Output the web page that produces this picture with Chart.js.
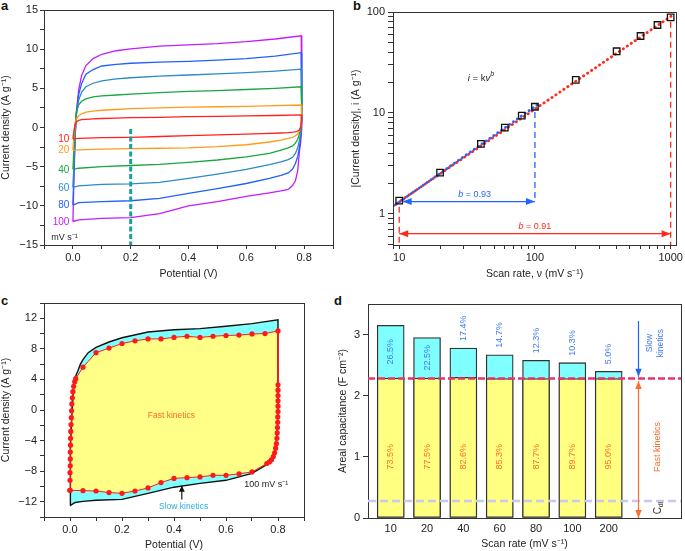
<!DOCTYPE html>
<html>
<head>
<meta charset="utf-8">
<script src="https://cdn.jsdelivr.net/npm/chart.js@4.4.1/dist/chart.umd.min.js"></script>
<style>
  body { margin: 0; width: 685px; height: 551px; position: relative; overflow: hidden; background: #fff;
         font-family: 'Liberation Sans', Arial, Helvetica, sans-serif; }
  canvas { position: absolute; }
  .tag { position: absolute; font-weight: bold; font-size: 13px; line-height: 13px; color: #111; }
</style>
</head>
<body>
<div class="tag" style="left:1px;top:-1px">a</div>
<div class="tag" style="left:353px;top:-1px">b</div>
<div class="tag" style="left:1px;top:294px">c</div>
<div class="tag" style="left:334px;top:294px">d</div>
<canvas id="chartA" width="342" height="280" style="left:0;top:0"></canvas>
<canvas id="chartB" width="343" height="280" style="left:342px;top:0"></canvas>
<canvas id="chartC" width="336" height="271" style="left:0;top:280px"></canvas>
<canvas id="chartD" width="349" height="271" style="left:336px;top:280px"></canvas>
<script>
// ---- panel a: CVs at several scan rates ----
const rateLabels = ['10', '20', '40', '60', '80', '100'];
const upperPotential = [0, 0.004, 0.008, 0.012, 0.02, 0.03, 0.045, 0.07, 0.1, 0.15, 0.2, 0.3, 0.4, 0.5, 0.6, 0.7, 0.79];
const lowerPotential = [0.792, 0.788, 0.784, 0.778, 0.77, 0.76, 0.745, 0.72, 0.68, 0.6, 0.5, 0.4, 0.3, 0.2, 0.1, 0.02, 0];
const upper10 = [-1.45, -0.3, 0.4, 0.7, 0.9, 1.0, 1.05, 1.1, 1.15, 1.2, 1.25, 1.3, 1.38, 1.42, 1.48, 1.53, 1.6];
const lower10 = [0.8, 0.0, -0.3, -0.45, -0.55, -0.6, -0.65, -0.7, -0.75, -0.85, -0.95, -1.05, -1.15, -1.25, -1.3, -1.4, -1.45];
const upper20 = [-2.9, -0.8, 0.6, 1.1, 1.5, 1.75, 1.95, 2.1, 2.2, 2.3, 2.4, 2.5, 2.6, 2.65, 2.7, 2.78, 2.87];
const lower20 = [1.5, 0.2, -0.4, -0.8, -1.05, -1.25, -1.4, -1.6, -1.85, -2.2, -2.45, -2.6, -2.65, -2.7, -2.75, -2.85, -2.9];
const upper40 = [-5.35, -2.5, 0.3, 2.0, 2.9, 3.35, 3.65, 3.9, 4.05, 4.15, 4.25, 4.45, 4.6, 4.7, 4.85, 5.0, 5.2];
const lower40 = [2.0, 0.0, -0.75, -1.5, -2.0, -2.35, -2.6, -2.9, -3.3, -3.75, -4.15, -4.45, -4.7, -4.85, -5.0, -5.2, -5.35];
const upper60 = [-7.65, -4.0, -0.8, 1.5, 3.5, 4.5, 5.2, 5.65, 5.95, 6.2, 6.35, 6.55, 6.7, 6.85, 7.0, 7.2, 7.45];
const lower60 = [1.5, -0.6, -1.6, -2.6, -3.3, -3.8, -4.1, -4.4, -4.75, -5.35, -5.95, -6.5, -7.0, -7.2, -7.25, -7.45, -7.65];
const upper80 = [-9.9, -5.0, -0.8, 1.8, 4.2, 5.6, 6.8, 7.4, 7.85, 8.05, 8.2, 8.35, 8.45, 8.6, 8.8, 9.1, 9.55];
const lower80 = [1.0, -1.2, -2.5, -3.7, -4.6, -5.3, -5.8, -6.1, -6.5, -7.15, -7.8, -8.4, -9.05, -9.35, -9.45, -9.6, -9.9];
const upper100 = [-12.0, -6.0, -1.0, 2.0, 4.8, 6.6, 7.9, 8.8, 9.35, 9.8, 10.05, 10.4, 10.55, 10.7, 10.95, 11.3, 11.7];
const lower100 = [0.0, -2.0, -3.0, -5.5, -6.8, -7.4, -7.9, -8.1, -8.35, -8.8, -9.45, -10.0, -11.0, -11.5, -11.6, -11.8, -12.0];

// ---- panel b: peak current vs scan rate ----
const scanRateB = [10, 20, 40, 60, 80, 100, 200, 400, 600, 800, 1000];
const peakCurrent = [1.35, 2.56, 4.93, 7.15, 9.4, 11.5, 21.2, 40.8, 57.8, 74.3, 88.6];
const fitAllRate = [9.04, 1064];
const fitAllCurrent = [1.2, 95.5];
const fitLowRate = [9.4, 106];
const fitLowCurrent = [1.23, 12.2];

// ---- panel c: CV at 100 mV/s and fast-kinetics fit ----
const cvPotential = [0, 0, 0.003, 0.008, 0.014, 0.02, 0.03, 0.04, 0.05, 0.07, 0.1, 0.15, 0.2, 0.3, 0.4, 0.5, 0.6, 0.7, 0.8,
  0.8, 0.8, 0.797, 0.791, 0.782, 0.767, 0.75, 0.7, 0.6, 0.5, 0.4, 0.3, 0.2, 0.1, 0.05, 0.02, 0];
const cvCurrent = [-12.5, -10.5, -5.0, 0.0, 3.0, 4.3, 5.1, 6.0, 6.6, 7.5, 8.2, 8.9, 9.45, 10.2, 10.5, 10.65, 10.95, 11.3, 11.8,
  3.3, -0.2, -3.0, -5.0, -6.1, -6.8, -7.3, -8.3, -9.2, -9.6, -10.1, -10.9, -11.7, -11.8, -11.95, -12.1, -12.5];
const fitPotential = [0, 0, 0, 0.001, 0.001, 0.001, 0.002, 0.002, 0.003, 0.004, 0.005, 0.006, 0.007, 0.009, 0.011, 0.014, 0.018, 0.022,
  0.05, 0.1, 0.15, 0.2, 0.25, 0.3, 0.35, 0.4, 0.45, 0.5, 0.55, 0.6, 0.65, 0.7, 0.75, 0.8,
  0.8, 0.8, 0.8, 0.8, 0.8, 0.8,
  0.799, 0.799, 0.798, 0.797, 0.796, 0.794, 0.791, 0.787, 0.782, 0.775, 0.767, 0.757,
  0.7, 0.65, 0.6, 0.55, 0.5, 0.45, 0.4, 0.35, 0.3, 0.25, 0.2, 0.15, 0.1, 0.05, 0];
const fitCurrent = [-10.5, -9.2, -8.2, -7.3, -6.4, -5.5, -4.6, -3.7, -2.8, -1.9, -1.0, -0.1, 0.8, 1.6, 2.4, 3.1, 3.7, 4.1,
  5.6, 7.5, 8.1, 8.7, 9.05, 9.3, 9.3, 9.5, 9.65, 9.5, 9.65, 9.75, 9.8, 9.95, 10.0, 10.35,
  3.3, 2.6, 1.9, 1.2, 0.5, -0.2,
  -0.9, -1.6, -2.3, -3.0, -3.7, -4.4, -5.0, -5.6, -6.1, -6.5, -6.8, -7.0,
  -8.1, -8.35, -8.55, -8.55, -8.75, -8.85, -8.95, -9.5, -10.2, -10.6, -10.9, -10.8, -10.6, -10.55, -10.5];

// ---- panel d: areal capacitance split ----
const scanRateD = ['10', '20', '40', '60', '80', '100', '200'];
const totalCap = [3.15, 2.95, 2.78, 2.67, 2.58, 2.54, 2.40];
const fastCap = [2.29, 2.29, 2.30, 2.28, 2.28, 2.28, 2.28];
const slowPct = ['26.5%', '22.5%', '17.4%', '14.7%', '12.3%', '10.3%', '5.0%'];
const fastPct = ['73.5%', '77.5%', '82.6%', '85.3%', '87.7%', '89.7%', '95.0%'];
const fastLevel = 2.28;
const cdlLevel = 0.28;

const FONT = "'Liberation Sans', Arial, Helvetica, sans-serif";
Chart.defaults.font.family = FONT;
Chart.defaults.color = '#222';

const rateColors = ['#ff2020', '#ff9c1a', '#1aa640', '#2b8bc4', '#2160ff', '#c21cff'];
const uppers = [upper10, upper20, upper40, upper60, upper80, upper100];
const lowers = [lower10, lower20, lower40, lower60, lower80, lower100];

const fmt = v => String(v).replace('-', '\u2212');
const tickGrid = len => ({ display: true, drawOnChartArea: false, drawTicks: true, tickLength: len, color: '#333', lineWidth: 1 });
const isPow10 = v => Math.abs(Math.log10(v) - Math.round(Math.log10(v))) < 1e-9;

function logTicks(lo, hi) {
    const out = [];
    for (let k = Math.floor(Math.log10(lo)); k <= Math.ceil(Math.log10(hi)); k++) {
        for (let m = 1; m <= 9; m++) {
            const v = Number((m * Math.pow(10, k)).toPrecision(6));
            if (v >= lo - 1e-9 && v <= hi + 1e-9) out.push({ value: v });
        }
    }
    return out;
}

const framePlugin = {
    id: 'frame',
    afterDatasetsDraw(chart) {
        const { ctx, chartArea: a } = chart;
        ctx.save();
        ctx.strokeStyle = '#333';
        ctx.lineWidth = 1;
        ctx.strokeRect(Math.round(a.left) + 0.5, Math.round(a.top) + 0.5, Math.round(a.right - a.left), Math.round(a.bottom - a.top));
        ctx.restore();
    }
};

function head(ctx, fx, fy, tx, ty, L, W) {
    const a = Math.atan2(ty - fy, tx - fx);
    ctx.beginPath();
    ctx.moveTo(tx, ty);
    ctx.lineTo(tx - L * Math.cos(a) + W * Math.sin(a), ty - L * Math.sin(a) - W * Math.cos(a));
    ctx.lineTo(tx - L * Math.cos(a) - W * Math.sin(a), ty - L * Math.sin(a) + W * Math.cos(a));
    ctx.closePath();
    ctx.fill();
}

function arrow(ctx, x1, y1, x2, y2, color, both, L = 9, W = 3.5) {
    ctx.save();
    ctx.strokeStyle = color;
    ctx.fillStyle = color;
    ctx.lineWidth = 1.2;
    ctx.setLineDash([]);
    ctx.beginPath();
    ctx.moveTo(x1, y1);
    ctx.lineTo(x2, y2);
    ctx.stroke();
    head(ctx, x1, y1, x2, y2, L, W);
    if (both) head(ctx, x2, y2, x1, y1, L, W);
    ctx.restore();
}

function dashed(ctx, x1, y1, x2, y2, color, width, dash) {
    ctx.save();
    ctx.strokeStyle = color;
    ctx.lineWidth = width;
    ctx.setLineDash(dash);
    ctx.beginPath();
    ctx.moveTo(x1, y1);
    ctx.lineTo(x2, y2);
    ctx.stroke();
    ctx.restore();
}

// parts: [{t, italic, size, dy}]
function richText(ctx, parts, x, y, align, color) {
    ctx.save();
    ctx.fillStyle = color;
    ctx.textBaseline = 'middle';
    ctx.textAlign = 'left';
    let total = 0;
    parts.forEach(p => {
        ctx.font = (p.italic ? 'italic ' : '') + p.size + 'px ' + FONT;
        p.w = ctx.measureText(p.t).width;
        total += p.w;
    });
    let cx = align === 'center' ? x - total / 2 : x;
    parts.forEach(p => {
        ctx.font = (p.italic ? 'italic ' : '') + p.size + 'px ' + FONT;
        ctx.fillText(p.t, cx, y + (p.dy || 0));
        cx += p.w;
    });
    ctx.restore();
}

function rotatedText(ctx, text, x, y, size, color) {
    ctx.save();
    ctx.translate(x, y);
    ctx.rotate(-Math.PI / 2);
    ctx.font = size + 'px ' + FONT;
    ctx.fillStyle = color;
    ctx.textAlign = 'center';
    ctx.textBaseline = 'middle';
    ctx.fillText(text, 0, 0);
    ctx.restore();
}

const baseOptions = () => ({
    responsive: false,
    animation: false,
    devicePixelRatio: 1,
    plugins: { legend: { display: false }, tooltip: { enabled: false } }
});

// ================= panel a =================
const cvSets = rateLabels.map((r, i) => ({
    label: r + ' mV/s',
    data: upperPotential.map((v, k) => ({ x: v, y: uppers[i][k] }))
        .concat(lowerPotential.map((v, k) => ({ x: v, y: lowers[i][k] }))),
    showLine: true,
    borderColor: rateColors[i],
    borderWidth: 1.3,
    pointRadius: 0,
    tension: 0
}));

const panelAPlugin = {
    id: 'panelA',
    afterDatasetsDraw(chart) {
        const { ctx, scales: { x, y } } = chart;
        dashed(ctx, x.getPixelForValue(0.2), y.getPixelForValue(-0.2), x.getPixelForValue(0.2), y.getPixelForValue(-15), '#1b9e9e', 3, [5, 2.5]);
        ctx.save();
        ctx.font = '10px ' + FONT;
        ctx.textAlign = 'right';
        ctx.textBaseline = 'middle';
        rateLabels.forEach((r, i) => {
            ctx.fillStyle = rateColors[i];
            const low = lowers[i];
            ctx.fillText(r, x.getPixelForValue(-0.012), y.getPixelForValue(low[low.length - 1]) + 0.5);
        });
        ctx.fillStyle = '#222';
        ctx.textAlign = 'left';
        ctx.font = '9px ' + FONT;
        ctx.fillText('mV s\u207B\u00B9', x.getPixelForValue(-0.075), y.getPixelForValue(-14));
        ctx.restore();
    }
};

new Chart(document.getElementById('chartA'), {
    type: 'scatter',
    data: { datasets: cvSets },
    options: Object.assign(baseOptions(), {
        layout: { padding: { top: 10, right: 9, left: 0, bottom: 0 } },
        scales: {
            x: {
                type: 'linear', min: -0.1, max: 0.9,
                afterFit: s => { s.height = 35; },
                ticks: {
                    stepSize: 0.1, autoSkip: false, maxRotation: 0, padding: 2, font: { size: 11 },
                    callback: v => { const k = Math.round(v * 10); return (k >= 0 && k <= 8 && k % 2 === 0) ? (k / 10).toFixed(1) : ''; }
                },
                grid: tickGrid(4), border: { display: false },
                title: { display: true, text: 'Potential (V)', font: { size: 10.5 }, padding: { top: 0, bottom: 0 } }
            },
            y: {
                type: 'linear', min: -15, max: 15,
                afterFit: s => { s.width = 44; },
                ticks: {
                    stepSize: 2.5, autoSkip: false, padding: 2, font: { size: 11 },
                    callback: v => Math.abs(v % 5) < 1e-6 ? fmt(v) : ''
                },
                grid: tickGrid(4), border: { display: false },
                title: { display: true, text: 'Current density (A g\u207B\u00B9)', font: { size: 10.5 }, padding: { top: 0, bottom: 0 } }
            }
        }
    }),
    plugins: [framePlugin, panelAPlugin]
});

// ================= panel b =================
const panelBPlugin = {
    id: 'panelB',
    afterDatasetsDraw(chart) {
        const { ctx, scales: { x, y } } = chart;
        const px = v => x.getPixelForValue(v), py = v => y.getPixelForValue(v);
        const blue = '#2266ff', red = '#ff2a1a';
        dashed(ctx, px(100), py(10.2), px(100), py(1.32), blue, 1.3, [6, 4]);
        dashed(ctx, px(10), py(1.17), px(10), py(y.min), red, 1.3, [6, 4]);
        dashed(ctx, px(1000), py(80), px(1000), py(y.min), red, 1.3, [6, 4]);
        arrow(ctx, px(10.6), py(1.32), px(100), py(1.32), blue, true);
        arrow(ctx, px(10), py(0.634), px(1000), py(0.634), red, true);
        richText(ctx, [{ t: 'b', italic: true, size: 9 }, { t: ' = 0.93', size: 9 }], px(35.9), py(1.54), 'center', blue);
        richText(ctx, [{ t: 'b', italic: true, size: 9 }, { t: ' = 0.91', size: 9 }], px(100), py(0.745), 'center', red);
        richText(ctx, [
            { t: 'i', italic: true, size: 9.5 }, { t: ' = k', size: 9.5 },
            { t: 'v', italic: true, size: 9.5 }, { t: 'b', italic: true, size: 7, dy: -4 }
        ], px(32), py(22), 'left', '#222');
    }
};

new Chart(document.getElementById('chartB'), {
    type: 'scatter',
    data: {
        datasets: [
            {
                label: 'data', data: scanRateB.map((v, i) => ({ x: v, y: peakCurrent[i] })),
                pointStyle: 'rect', pointRadius: 4.6, pointBorderColor: '#111', pointBorderWidth: 1.3,
                pointBackgroundColor: 'rgba(0,0,0,0)', showLine: false
            },
            {
                label: 'fit low', data: fitLowRate.map((v, i) => ({ x: v, y: fitLowCurrent[i] })),
                showLine: true, pointRadius: 0, borderColor: '#2266ff', borderWidth: 2.8,
                borderDash: [0.3, 4.5], borderCapStyle: 'round'
            },
            {
                label: 'fit all', data: fitAllRate.map((v, i) => ({ x: v, y: fitAllCurrent[i] })),
                showLine: true, pointRadius: 0, borderColor: '#ff2a1a', borderWidth: 2.8,
                borderDash: [0.3, 4.5], borderCapStyle: 'round'
            }
        ]
    },
    options: Object.assign(baseOptions(), {
        layout: { padding: { top: 12, right: 6, left: 0, bottom: 0 } },
        scales: {
            x: {
                type: 'logarithmic', min: 9, max: 1100,
                afterFit: s => { s.height = 35; },
                afterBuildTicks: s => { s.ticks = logTicks(s.min, s.max); },
                ticks: { autoSkip: false, maxRotation: 0, padding: 2, font: { size: 11 }, callback: v => isPow10(v) ? String(v) : '' },
                grid: tickGrid(4), border: { display: false },
                title: { display: true, text: 'Scan rate, \u03BD (mV s\u207B\u00B9)', font: { size: 10.5 }, padding: { top: 0, bottom: 0 } }
            },
            y: {
                type: 'logarithmic', min: 0.49, max: 100,
                afterFit: s => { s.width = 51; },
                afterBuildTicks: s => { s.ticks = logTicks(s.min, s.max); },
                ticks: { autoSkip: false, padding: 3, font: { size: 11 }, callback: v => isPow10(v) ? String(v) : '' },
                grid: tickGrid(5), border: { display: false },
                title: { display: true, text: '|Current density|, i (A g\u207B\u00B9)', font: { size: 10.5 }, padding: { top: 8, bottom: 0 } }
            }
        }
    }),
    plugins: [framePlugin, panelBPlugin]
});

// ================= panel c =================
const loopFillPlugin = {
    id: 'loopFill',
    beforeDatasetsDraw(chart) {
        const ctx = chart.ctx;
        const area = chart.chartArea;
        ctx.save();
        ctx.beginPath();
        ctx.rect(area.left, area.top, area.right - area.left, area.bottom - area.top);
        ctx.clip();
        chart.data.datasets.forEach((ds, i) => {
            if (!ds.areaColor) return;
            const pts = chart.getDatasetMeta(i).data;
            ctx.beginPath();
            pts.forEach((p, k) => k ? ctx.lineTo(p.x, p.y) : ctx.moveTo(p.x, p.y));
            ctx.closePath();
            ctx.fillStyle = ds.areaColor;
            ctx.fill();
        });
        ctx.restore();
    }
};

const panelCPlugin = {
    id: 'panelC',
    afterDatasetsDraw(chart) {
        const { ctx, scales: { x, y } } = chart;
        const px = v => x.getPixelForValue(v), py = v => y.getPixelForValue(v);
        richText(ctx, [{ t: 'Fast kinetics', size: 8.5 }], px(0.39), py(-0.8), 'center', '#ff6b1a');
        richText(ctx, [{ t: 'Slow kinetics', size: 8.5 }], px(0.437), py(-12.7), 'center', '#2ab0dc');
        richText(ctx, [{ t: '100 mV s\u207B\u00B9', size: 9 }], px(0.755), py(-9.7), 'center', '#222');
        arrow(ctx, px(0.43), py(-11.7), px(0.43), py(-9.9), '#111', false, 6, 3);
    }
};

new Chart(document.getElementById('chartC'), {
    type: 'scatter',
    data: {
        datasets: [
            {
                label: 'fast fit', data: fitPotential.map((v, i) => ({ x: v, y: fitCurrent[i] })),
                showLine: true, borderColor: '#ff1a1a', borderWidth: 1, pointRadius: 2.6,
                pointBackgroundColor: '#ff1a1a', pointBorderWidth: 0, areaColor: '#ffff88', order: 0
            },
            {
                label: 'cv', data: cvPotential.map((v, i) => ({ x: v, y: cvCurrent[i] })),
                showLine: true, borderColor: '#111', borderWidth: 1.4, pointRadius: 0,
                areaColor: '#80ffff', order: 1
            }
        ].reverse()
    },
    options: Object.assign(baseOptions(), {
        layout: { padding: { top: 23, right: 32, left: 0, bottom: 0 } },
        scales: {
            x: {
                type: 'linear', min: -0.1, max: 0.9,
                afterFit: s => { s.height = 34; },
                ticks: {
                    stepSize: 0.1, autoSkip: false, maxRotation: 0, padding: 2, font: { size: 11 },
                    callback: v => { const k = Math.round(v * 10); return (k >= 0 && k <= 8 && k % 2 === 0) ? (k / 10).toFixed(1) : ''; }
                },
                grid: tickGrid(4), border: { display: false },
                title: { display: true, text: 'Potential (V)', font: { size: 10.5 }, padding: { top: 0, bottom: 0 } }
            },
            y: {
                type: 'linear', min: -14, max: 14,
                afterFit: s => { s.width = 44; },
                ticks: {
                    stepSize: 2, autoSkip: false, padding: 3, font: { size: 11 },
                    callback: v => (Math.abs(v % 4) < 1e-6 && Math.abs(v) <= 12) ? fmt(v) : ''
                },
                grid: tickGrid(4), border: { display: false },
                title: { display: true, text: 'Current density (A g\u207B\u00B9)', font: { size: 10.5 }, padding: { top: 0, bottom: 0 } }
            }
        }
    }),
    plugins: [loopFillPlugin, framePlugin, panelCPlugin]
});

// ================= panel d =================
const panelDPlugin = {
    id: 'panelD',
    afterDatasetsDraw(chart) {
        const { ctx, chartArea: a, scales: { x, y } } = chart;
        const px = v => x.getPixelForValue(v), py = v => y.getPixelForValue(v);
        dashed(ctx, a.left, py(cdlLevel), a.right, py(cdlLevel), '#c8c8f4', 2.5, [8, 4]);
        dashed(ctx, a.left, py(fastLevel), a.right, py(fastLevel), '#e8336e', 2.5, [7, 3]);

        totalCap.forEach((t, i) => {
            const slowH = py(fastCap[i]) - py(t);
            ctx.save();
            ctx.font = '9px ' + FONT;
            const w = ctx.measureText(slowPct[i]).width;
            ctx.restore();
            if (slowH > w + 6) {
                rotatedText(ctx, slowPct[i], px(i), (py(t) + py(fastCap[i])) / 2, 9, '#3f7bef');
            } else {
                rotatedText(ctx, slowPct[i], px(i), py(t) - 7 - w / 2, 9, '#3f7bef');
            }
            rotatedText(ctx, fastPct[i], px(i), py(1.0), 9, '#ff6b2e');
        });

        arrow(ctx, px(6.82), py(3.22), px(6.82), py(2.31), '#2266ee', false, 8, 3.2);
        arrow(ctx, px(6.82), py(2.24), px(6.82), py(0.0), '#ff6b2e', true, 8, 3.2);
        rotatedText(ctx, 'Slow', px(7.14), py(2.86), 8.5, '#3f7bef');
        rotatedText(ctx, 'kinetics', px(7.42), py(2.86), 8.5, '#3f7bef');
        rotatedText(ctx, 'Fast kinetics', px(7.33), py(1.16), 9, '#ff6b2e');
        ctx.save();
        ctx.translate(px(7.36), py(0.175));
        ctx.rotate(-Math.PI / 2);
        ctx.fillStyle = '#333';
        ctx.textBaseline = 'middle';
        ctx.font = '10px ' + FONT;
        ctx.fillText('C', -7, 0);
        ctx.font = '7px ' + FONT;
        ctx.fillText('dl', 0, 3);
        ctx.restore();
    }
};

new Chart(document.getElementById('chartD'), {
    type: 'bar',
    data: {
        datasets: [
            {
                label: 'fast', data: fastCap.map((v, i) => ({ x: i, y: v })),
                backgroundColor: '#ffff80', borderColor: '#333', borderWidth: 1.3, borderSkipped: false,
                grouped: false, barThickness: 27, order: 0
            },
            {
                label: 'total', data: totalCap.map((v, i) => ({ x: i, y: v })),
                backgroundColor: '#80ffff', borderColor: '#333', borderWidth: 1.3, borderSkipped: false,
                grouped: false, barThickness: 27, order: 1
            }
        ]
    },
    options: Object.assign(baseOptions(), {
        layout: { padding: { top: 24, right: 4, left: 0, bottom: 0 } },
        scales: {
            x: {
                type: 'linear', min: -0.625, max: 7.99, offset: false,
                afterFit: s => { s.height = 33; },
                afterBuildTicks: s => { s.ticks = scanRateD.map((_, i) => ({ value: i })); },
                ticks: { autoSkip: false, maxRotation: 0, padding: 4, font: { size: 11 }, callback: v => scanRateD[v] ?? '' },
                grid: { display: true, drawOnChartArea: false, drawTicks: false, color: 'rgba(0,0,0,0)' }, border: { display: false },
                title: { display: true, text: 'Scan rate (mV s\u207B\u00B9)', font: { size: 10.5 }, padding: { top: 0, bottom: 1 } }
            },
            y: {
                type: 'linear', min: 0, max: 3.5,
                afterFit: s => { s.width = 32; },
                afterBuildTicks: s => { s.ticks = [0, 1, 2, 3].map(v => ({ value: v })); },
                ticks: { autoSkip: false, padding: 3, font: { size: 11 } },
                grid: tickGrid(5), border: { display: false },
                title: { display: true, text: 'Areal capacitance (F cm\u207B\u00B2)', font: { size: 10.5 }, padding: { top: 1, bottom: 0 } }
            }
        }
    }),
    plugins: [framePlugin, panelDPlugin]
});
</script>
</body>
</html>
